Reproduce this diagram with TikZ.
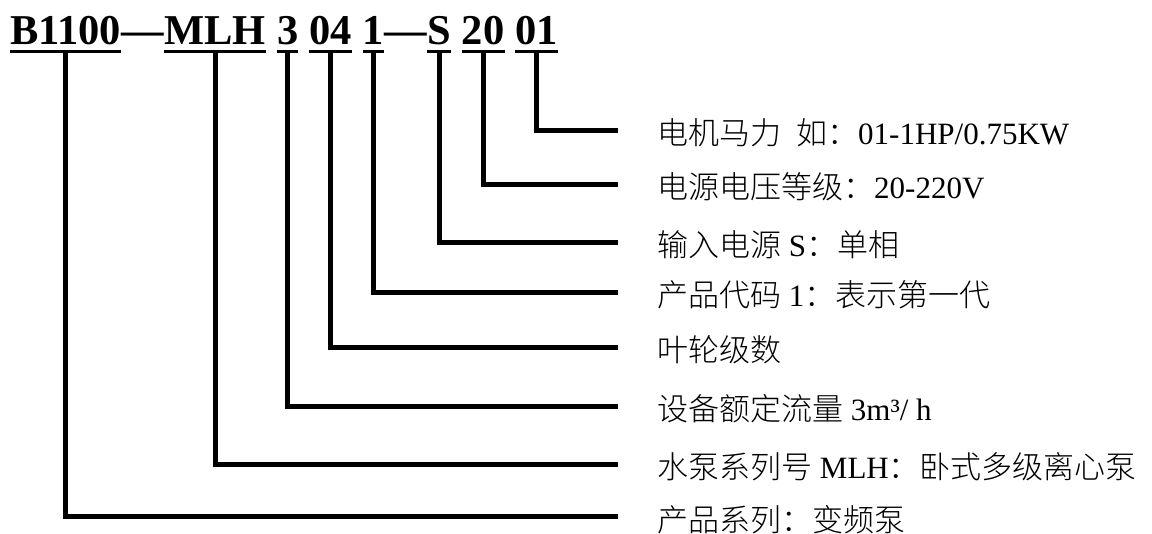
\documentclass[tikz,border=0pt]{standalone}
\usepackage{fontspec}
\setmainfont{Liberation Serif}
\newfontfamily\cjk{Noto Sans CJK SC}[UprightFont=* Light]
\newcommand{\C}[1]{{\cjk #1}}
\begin{document}
\begin{tikzpicture}[x=1pt,y=-1pt,
  tt/.style={font=\bfseries\fontsize{42.5}{50}\selectfont, inner sep=0pt, text depth=0pt, anchor=base west},
  lab/.style={font=\fontsize{31}{36}\selectfont, inner sep=0pt, anchor=base west},
  ul/.style={line width=3.5pt},
  conn/.style={line width=5pt, line join=miter}]
\useasboundingbox (0,0) rectangle (1152,534);
% title segments
\node[tt] (s1) at (10,45) {B1100};
\node[tt] (d1) at (s1.base east) {—};
\node[tt] (s2) at (d1.base east) {MLH};
\node[tt] (s3) at ([xshift=10.6pt]s2.base east) {3};
\node[tt] (s4) at ([xshift=10.6pt]s3.base east) {04};
\node[tt] (s5) at ([xshift=10.6pt]s4.base east) {1};
\node[tt] (d2) at (s5.base east) {—};
\node[tt] (s6) at (d2.base east) {S};
\node[tt] (s7) at ([xshift=10.6pt]s6.base east) {20};
\node[tt] (s8) at ([xshift=10.6pt]s7.base east) {01};
% underlines
\foreach \s in {s1,s2,s3,s4,s5,s6,s7,s8}
  \draw[ul] ([yshift=-6.5pt]\s.south west) -- ([yshift=-6.5pt]\s.south east);
% line end points
\coordinate (e1) at (618,131);
\coordinate (e2) at (618,185);
\coordinate (e3) at (618,243);
\coordinate (e4) at (618,293);
\coordinate (e5) at (618,348);
\coordinate (e6) at (618,407);
\coordinate (e7) at (618,465);
\coordinate (e8) at (618,517);
% connectors
\draw[conn] ([yshift=-6.5pt]s8.south) |- (e1);
\draw[conn] ([yshift=-6.5pt]s7.south) |- (e2);
\draw[conn] ([yshift=-6.5pt]s6.south) |- (e3);
\draw[conn] ([yshift=-6.5pt]s5.south) |- (e4);
\draw[conn] ([yshift=-6.5pt]s4.south) |- (e5);
\draw[conn] ([yshift=-6.5pt]s3.south) |- (e6);
\draw[conn] ([yshift=-6.5pt]s2.south) |- (e7);
\draw[conn] ([yshift=-6.5pt]s1.south) |- (e8);
% labels
\node[lab] (l1) at (657,145) {\C{电机马力}\hspace{15pt}\C{如：}01-1HP/0.75KW};
\node[lab] (l2) at (657,199) {\C{电源电压等级：}20-220V};
\node[lab] (l3) at (657,257) {\C{输入电源} S\C{：单相}};
\node[lab] (l4) at (657,307) {\C{产品代码} 1\C{：表示第一代}};
\node[lab] (l5) at (657,362) {\C{叶轮级数}};
\node[lab] (l6) at (657,421) {\C{设备额定流量} 3m³/ h};
\node[lab] (l7) at (657,479) {\C{水泵系列号} MLH\C{：卧式多级离心泵}};
\node[lab] (l8) at (657,531) {\C{产品系列：变频泵}};
\end{tikzpicture}
\end{document}
